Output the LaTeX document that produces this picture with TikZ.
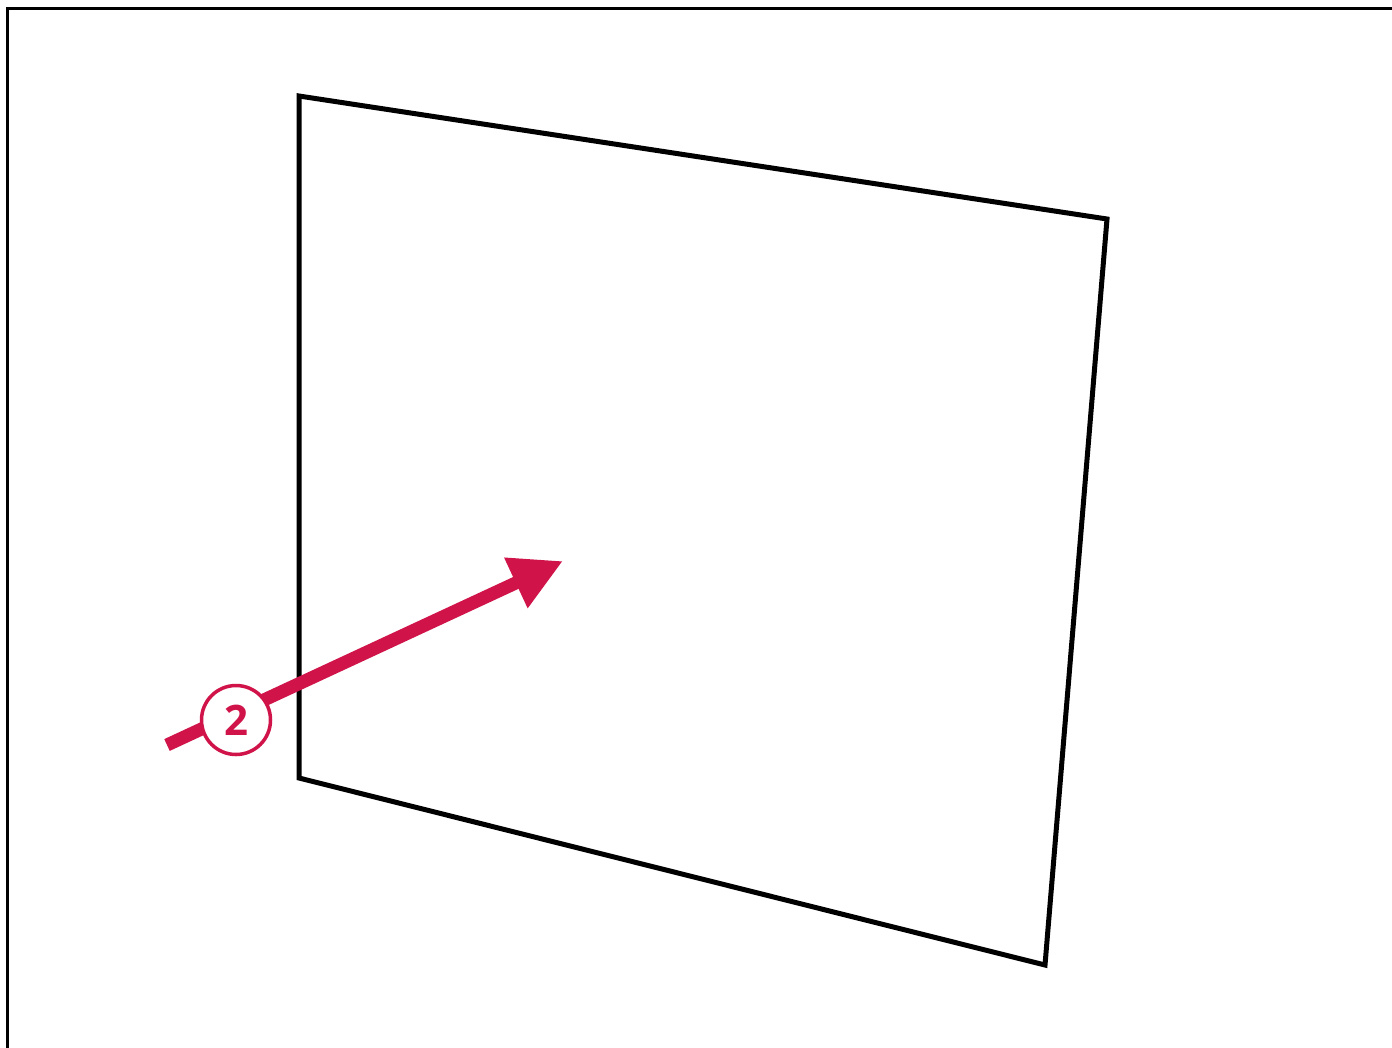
\documentclass[tikz,border=0pt]{standalone}
\usepackage{fontspec}
\setmainfont{Open Sans}
\usetikzlibrary{arrows.meta}
\definecolor{crim}{RGB}{208,20,74}
\begin{document}
\begin{tikzpicture}[x=1pt,y=-1pt,
  frame/.style={line width=3pt,black},
  panel/.style={line width=5pt,black,line join=miter},
  ray/.style={line width=13pt,crim,-{Triangle[length=52pt,width=52pt]}},
  badge/.style={circle,draw=crim,line width=3.5pt,fill=white,minimum size=69pt,inner sep=0pt,text=crim,font=\bfseries\fontsize{42}{42}\selectfont}]
\useasboundingbox (0,0) rectangle (1392,1047);
\fill[white] (0,0) rectangle (1392,1047);
\draw[frame] (7,1050) -- (7,8) -- (1395,8);
\coordinate (p1) at (299,96);
\coordinate (p2) at (1107,219);
\coordinate (p3) at (1045,965);
\coordinate (p4) at (299,778);
\draw[panel] (p1) -- (p2) -- (p3) -- (p4) -- cycle;
\coordinate (s) at (167,745);
\coordinate (t) at (563,561);
\draw[ray] (s) -- (t);
\node[badge] (b) at (236,720) {2};
\end{tikzpicture}
\end{document}
